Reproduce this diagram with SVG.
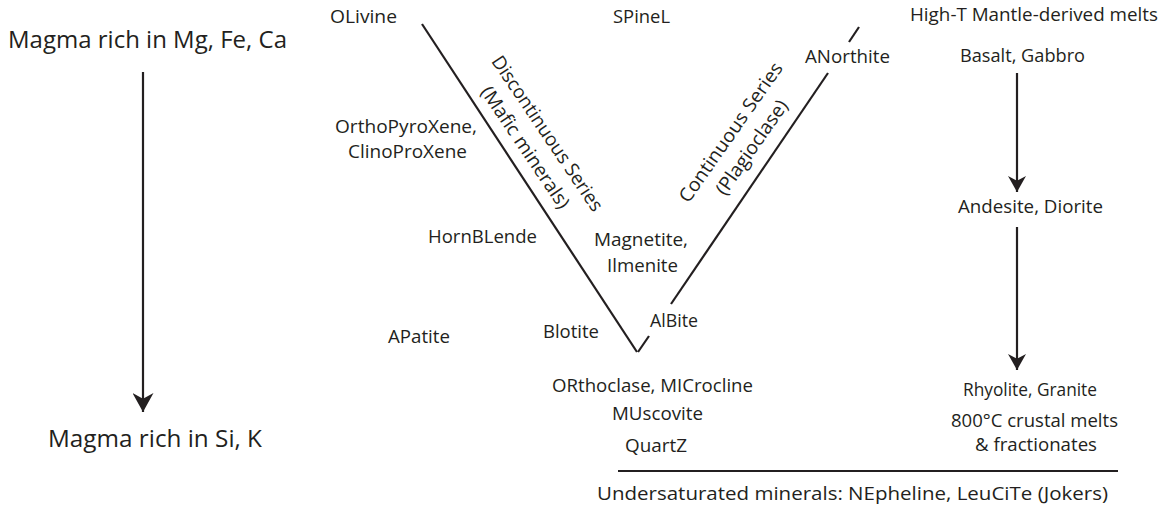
<svg xmlns="http://www.w3.org/2000/svg" width="1167" height="508" viewBox="0 0 1167 508">
<style>
text{font-family:"Open Sans","Noto Sans","DejaVu Sans",sans-serif;fill:#231f20;font-size:19px}
.big{font-size:24.5px}
.ln{stroke:#231f20;stroke-width:2.2;fill:none}
</style>
<defs>
<marker id="ahL" viewBox="0 0 20 20" refX="20" refY="10" markerWidth="19" markerHeight="21" markerUnits="userSpaceOnUse" orient="auto" preserveAspectRatio="none"><path d="M20,10 L0,0 L6,10 L0,20 Z" fill="#231f20"/></marker>
<marker id="ahR" viewBox="0 0 20 20" refX="20" refY="10" markerWidth="16" markerHeight="18" markerUnits="userSpaceOnUse" orient="auto" preserveAspectRatio="none"><path d="M20,10 L0,0 L6,10 L0,20 Z" fill="#231f20"/></marker>
</defs>
<rect width="1167" height="508" fill="#fff"/>
<g id="connectors">
<line class="ln" x1="143" y1="72" x2="143" y2="412" marker-end="url(#ahL)"/>
<line class="ln" x1="1017" y1="73" x2="1017" y2="192" marker-end="url(#ahR)"/>
<line class="ln" x1="1017" y1="227" x2="1017" y2="370" marker-end="url(#ahR)"/>
<line class="ln" x1="422" y1="24" x2="637" y2="352"/>
<line class="ln" x1="638" y1="352" x2="649" y2="336"/>
<line class="ln" x1="671" y1="304" x2="828" y2="73"/>
<line class="ln" x1="849" y1="42" x2="859" y2="27"/>
<line class="ln" x1="618" y1="471" x2="1118" y2="471"/>
</g>
<g id="magma-top"><text class="big" x="8" y="48" textLength="279" lengthAdjust="spacingAndGlyphs">Magma rich in Mg, Fe, Ca</text></g>
<g id="magma-bottom"><text class="big" x="48" y="447" textLength="214" lengthAdjust="spacingAndGlyphs">Magma rich in Si, K</text></g>
<g id="olivine"><text x="330" y="23" textLength="67" lengthAdjust="spacingAndGlyphs">OLivine</text></g>
<g id="spinel"><text x="613" y="23" textLength="57" lengthAdjust="spacingAndGlyphs">SPineL</text></g>
<g id="pyroxene"><text x="335" y="133" textLength="142" lengthAdjust="spacingAndGlyphs">OrthoPyroXene,</text><text x="348" y="158" textLength="119" lengthAdjust="spacingAndGlyphs">ClinoProXene</text></g>
<g id="hornblende"><text x="428" y="243" textLength="109" lengthAdjust="spacingAndGlyphs">HornBLende</text></g>
<g id="magnetite"><text x="594" y="246" textLength="94" lengthAdjust="spacingAndGlyphs">Magnetite,</text><text x="607" y="272" textLength="71" lengthAdjust="spacingAndGlyphs">Ilmenite</text></g>
<g id="albite"><text x="650" y="327" textLength="48" lengthAdjust="spacingAndGlyphs">AlBite</text></g>
<g id="biotite"><text x="543" y="338" textLength="56" lengthAdjust="spacingAndGlyphs">Blotite</text></g>
<g id="apatite"><text x="388" y="343" textLength="62" lengthAdjust="spacingAndGlyphs">APatite</text></g>
<g id="anorthite"><text x="805" y="63" textLength="85" lengthAdjust="spacingAndGlyphs">ANorthite</text></g>
<g id="discontinuous"><text text-anchor="middle" transform="translate(542,137) rotate(56)" textLength="183" lengthAdjust="spacingAndGlyphs">Discontinuous Series</text><text text-anchor="middle" transform="translate(520,151) rotate(56)" textLength="143" lengthAdjust="spacingAndGlyphs">(Mafic minerals)</text></g>
<g id="continuous"><text text-anchor="middle" transform="translate(736,136) rotate(-55)" textLength="166" lengthAdjust="spacingAndGlyphs">Continuous Series</text><text text-anchor="middle" transform="translate(757,151) rotate(-55)" textLength="111" lengthAdjust="spacingAndGlyphs">(Plagioclase)</text></g>
<g id="hight"><text x="910" y="21" textLength="248" lengthAdjust="spacingAndGlyphs">High-T Mantle-derived melts</text></g>
<g id="basalt"><text x="960" y="62" textLength="125" lengthAdjust="spacingAndGlyphs">Basalt, Gabbro</text></g>
<g id="andesite"><text x="958" y="213" textLength="145" lengthAdjust="spacingAndGlyphs">Andesite, Diorite</text></g>
<g id="orthoclase"><text x="552" y="392" textLength="201" lengthAdjust="spacingAndGlyphs">ORthoclase, MICrocline</text></g>
<g id="muscovite"><text x="612" y="420" textLength="91" lengthAdjust="spacingAndGlyphs">MUscovite</text></g>
<g id="quartz"><text x="625" y="452" textLength="62" lengthAdjust="spacingAndGlyphs">QuartZ</text></g>
<g id="rhyolite"><text x="963" y="396" textLength="134" lengthAdjust="spacingAndGlyphs">Rhyolite, Granite</text><text x="951" y="427" textLength="167" lengthAdjust="spacingAndGlyphs">800°C crustal melts</text><text x="975" y="451" textLength="122" lengthAdjust="spacingAndGlyphs">&amp; fractionates</text></g>
<g id="undersaturated"><text x="597" y="500" textLength="511" lengthAdjust="spacingAndGlyphs">Undersaturated minerals: NEpheline, LeuCiTe (Jokers)</text></g>
</svg>
